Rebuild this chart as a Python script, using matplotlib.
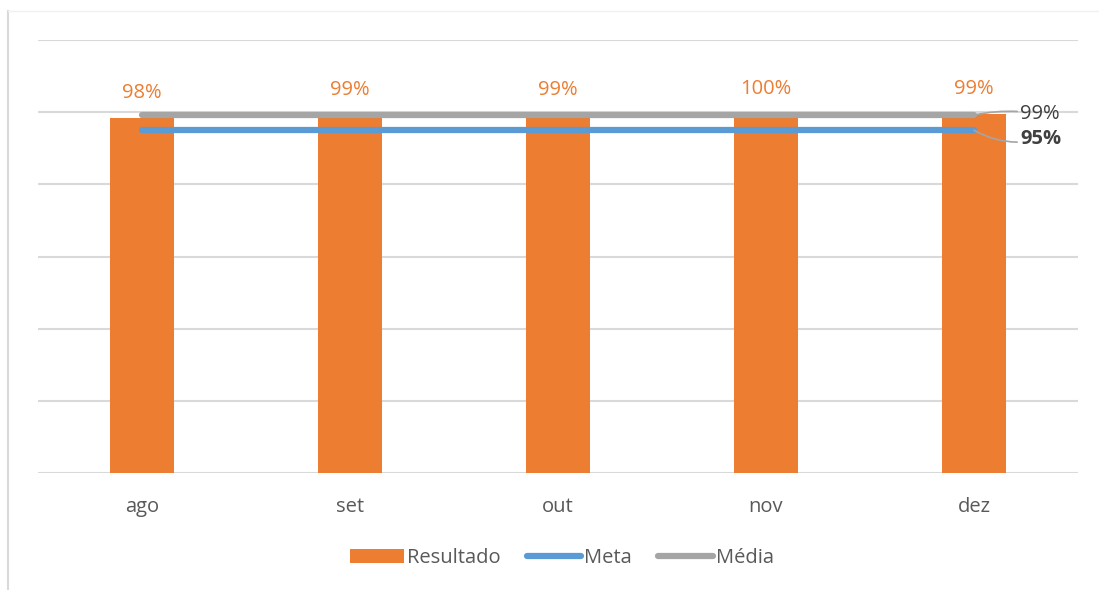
import numpy as np
import matplotlib.pyplot as plt
from matplotlib.lines import Line2D

plt.rcParams['font.family'] = ['Open Sans', 'DejaVu Sans']

meses = ["ago", "set", "out", "nov", "dez"]
resultado = [98.3, 99.3, 99.3, 99.6, 99.4]
meta = [95, 95, 95, 95, 95]
media = [99.2, 99.2, 99.2, 99.2, 99.2]

orange = "#ED7D31"
blue = "#5B9BD5"
gray = "#A5A5A5"
text_gray = "#595959"

fig = plt.figure(figsize=(10.99, 5.90), dpi=100)
ax = fig.add_axes([38/1099, 1 - 473/590, 1040/1099, 433/590])

x = np.arange(len(meses))
bars = ax.bar(x, resultado, width=0.31, color=orange, zorder=2, label="Resultado")
l_meta, = ax.plot(x, meta, color=blue, lw=4.5, solid_capstyle="round", zorder=3, label="Meta")
l_media, = ax.plot(x, media, color=gray, lw=4.5, solid_capstyle="round", zorder=3, label="Média")

for xi, v in zip(x, resultado):
    ax.annotate(f"{v:.0f}%", xy=(xi, v), xytext=(0, 25), textcoords="offset pixels",
                ha="center", va="center", color=orange, fontsize=14.5)

ax.annotate(f"{media[-1]:.0f}%", xy=(x[-1], media[-1]), xytext=(46, 1), textcoords="offset pixels",
            ha="left", va="center", color="#404040", fontsize=14.5,
            arrowprops=dict(arrowstyle="-", color=gray, lw=1.2, shrinkA=0, shrinkB=0,
                            connectionstyle="arc3,rad=0.1"))
ax.annotate(f"{meta[-1]}%", xy=(x[-1], meta[-1]), xytext=(46, -9), textcoords="offset pixels",
            ha="left", va="center", color="#404040", fontsize=14.5, fontweight="bold",
            arrowprops=dict(arrowstyle="-", color=gray, lw=1.2, shrinkA=0, shrinkB=0,
                            connectionstyle="arc3,rad=-0.2"))

ax.set_xlim(-0.5, 4.5)
ax.set_ylim(0, 120)
ax.set_yticks(np.arange(0, 121, 20))
ax.yaxis.grid(True, color="#D9D9D9", lw=1.5, zorder=0)
ax.set_axisbelow(True)
ax.set_yticklabels([])
ax.tick_params(axis="both", length=0)
ax.tick_params(axis="x", pad=17, labelsize=14.5, labelcolor=text_gray)
ax.set_xticks(x)
ax.set_xticklabels(meses)
for s in ax.spines.values():
    s.set_visible(False)

fig.legend(handles=[bars, l_meta, l_media], loc="center", bbox_to_anchor=(0.511, 1 - 558/590),
           ncol=3, frameon=False, fontsize=14.5, labelcolor=text_gray, handlelength=2.7,
           handletextpad=0.15, columnspacing=1.3)

fig.add_artist(Line2D([8/1099, 8/1099], [0, 1 - 11/590], color="#D9D9D9", lw=1.5))
fig.add_artist(Line2D([8/1099, 1], [1 - 11/590, 1 - 11/590], color="#F0F0F0", lw=1))

fig.savefig("out.png", dpi=100)
